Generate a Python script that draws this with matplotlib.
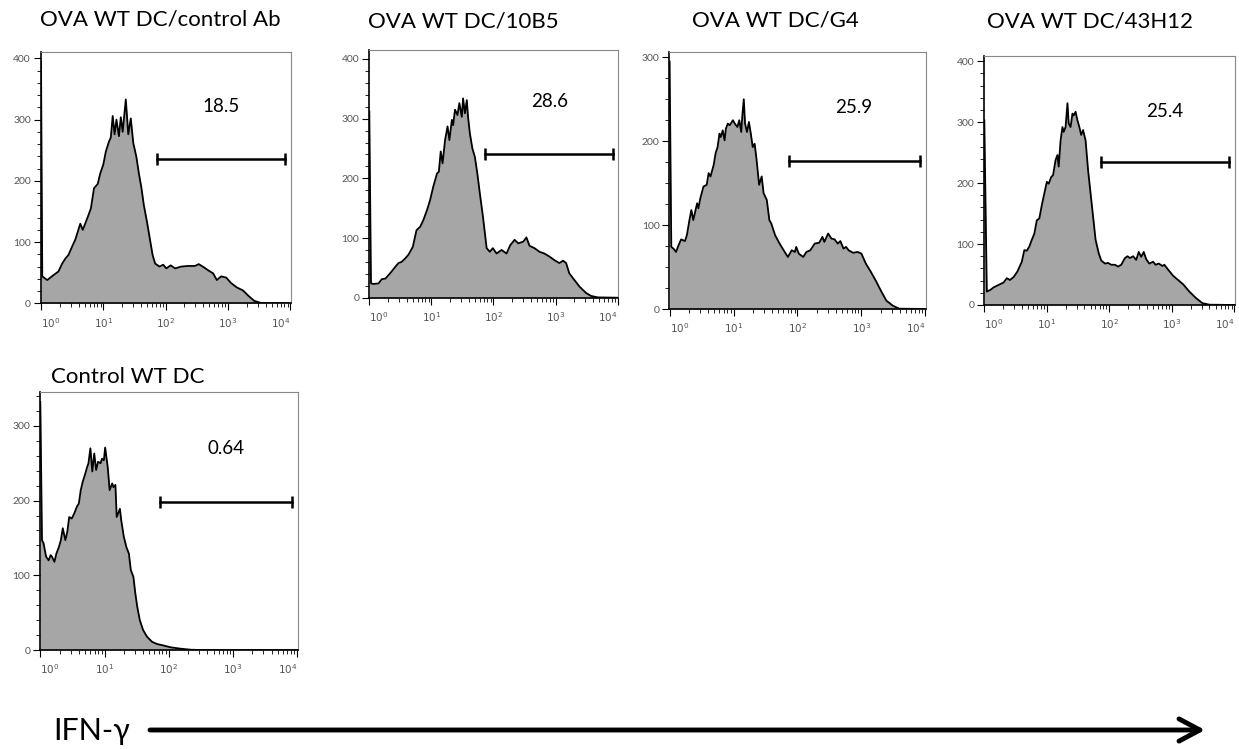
import numpy as np
import matplotlib.pyplot as plt
from matplotlib.ticker import FixedLocator, MultipleLocator, NullFormatter

plt.rcParams['font.family'] = ['Lato', 'Open Sans', 'DejaVu Sans']
plt.rcParams['mathtext.fontset'] = 'dejavusans'

# Panel titles and gated percentages
titles = ['OVA WT DC/control Ab', 'OVA WT DC/10B5', 'OVA WT DC/G4',
          'OVA WT DC/43H12', 'Control WT DC']
percents = ['18.5', '28.6', '25.9', '25.4', '0.64']

# Histograms: log10(IFN-gamma intensity) vs cell count
p1_logx = [0.00, 0.02, 0.10, 0.20, 0.28, 0.34, 0.39, 0.44, 0.50, 0.55, 0.63, 0.67,
           0.75, 0.80, 0.85, 0.91, 0.95, 1.00, 1.04, 1.09, 1.12, 1.15, 1.18, 1.21,
           1.25, 1.28, 1.31, 1.36, 1.40, 1.44, 1.48, 1.53, 1.57, 1.61, 1.65, 1.70,
           1.75, 1.79, 1.83, 1.90, 1.96, 2.01, 2.08, 2.15, 2.25, 2.36, 2.47, 2.53,
           2.61, 2.68, 2.76, 2.82, 2.89, 2.97, 3.05, 3.14, 3.24, 3.33, 3.42, 3.53, 3.98]
p1_counts = [395, 44, 38, 46, 52, 65, 73, 79, 93, 104, 130, 120,
             141, 155, 188, 195, 212, 227, 248, 264, 271, 306, 276, 300,
             273, 304, 280, 333, 276, 302, 262, 239, 212, 189, 160, 133,
             103, 79, 65, 60, 63, 57, 62, 57, 60, 61, 61, 64,
             59, 54, 49, 38, 44, 42, 33, 26, 21, 12, 4, 0.5, 0]

p2_logx = [0.00, 0.027, 0.07, 0.15, 0.20, 0.26, 0.31, 0.36, 0.42, 0.47, 0.52, 0.58,
           0.63, 0.70, 0.76, 0.82, 0.87, 0.93, 0.98, 1.03, 1.09, 1.12, 1.15, 1.18,
           1.22, 1.26, 1.29, 1.33, 1.35, 1.38, 1.42, 1.45, 1.49, 1.51, 1.54, 1.57,
           1.59, 1.62, 1.66, 1.70, 1.74, 1.78, 1.83, 1.89, 1.94, 1.99, 2.05, 2.13,
           2.21, 2.27, 2.34, 2.40, 2.48, 2.53, 2.58, 2.66, 2.74, 2.82, 2.90, 2.98,
           3.06, 3.12, 3.17, 3.22, 3.30, 3.39, 3.49, 3.57, 3.68, 3.99]
p2_counts = [312, 24, 23, 24, 31, 32, 38, 44, 52, 58, 60, 66,
             72, 85, 113, 119, 130, 147, 164, 186, 208, 211, 245, 225,
             264, 287, 264, 298, 289, 315, 306, 326, 303, 334, 309, 331,
             303, 275, 250, 236, 208, 175, 136, 83, 77, 83, 74, 80,
             74, 88, 97, 91, 94, 101, 87, 83, 77, 74, 69, 63,
             58, 62, 58, 41, 30, 18, 8, 3, 0.5, 0]

p3_logx = [0.00, 0.026, 0.06, 0.10, 0.14, 0.18, 0.24, 0.27, 0.31, 0.34, 0.37, 0.40,
           0.43, 0.45, 0.48, 0.53, 0.58, 0.61, 0.64, 0.69, 0.72, 0.75, 0.78, 0.80,
           0.83, 0.86, 0.88, 0.91, 0.94, 0.99, 1.02, 1.06, 1.09, 1.12, 1.14, 1.16,
           1.18, 1.21, 1.24, 1.27, 1.30, 1.33, 1.36, 1.40, 1.44, 1.47, 1.52, 1.56,
           1.59, 1.65, 1.72, 1.80, 1.85, 1.91, 1.96, 1.98, 2.02, 2.09, 2.14, 2.20,
           2.27, 2.34, 2.39, 2.42, 2.48, 2.53, 2.58, 2.63, 2.67, 2.72, 2.76, 2.80,
           2.87, 2.94, 3.00, 3.07, 3.15, 3.23, 3.31, 3.39, 3.49, 3.59, 3.98]
p3_counts = [295, 74, 72, 68, 76, 83, 81, 88, 106, 118, 106, 116,
             126, 120, 132, 146, 148, 162, 158, 172, 186, 193, 209, 205,
             213, 201, 215, 221, 219, 225, 221, 217, 225, 211, 233, 250,
             221, 211, 223, 209, 193, 197, 178, 148, 158, 138, 130, 106,
             102, 88, 78, 68, 62, 70, 68, 74, 66, 62, 68, 70,
             78, 79, 86, 80, 90, 84, 83, 78, 81, 72, 74, 70,
             67, 68, 66, 54, 44, 33, 21, 10, 4, 0.4, 0]

p4_logx = [0.00, 0.04, 0.10, 0.15, 0.23, 0.31, 0.36, 0.41, 0.47, 0.53, 0.60, 0.64,
           0.68, 0.72, 0.76, 0.80, 0.84, 0.88, 0.92, 0.96, 1.00, 1.03, 1.07, 1.10,
           1.14, 1.17, 1.19, 1.22, 1.25, 1.27, 1.30, 1.33, 1.35, 1.38, 1.41, 1.43,
           1.46, 1.49, 1.52, 1.55, 1.58, 1.62, 1.66, 1.70, 1.74, 1.78, 1.83, 1.87,
           1.93, 1.98, 2.03, 2.09, 2.14, 2.19, 2.25, 2.29, 2.33, 2.38, 2.43, 2.47,
           2.51, 2.55, 2.59, 2.64, 2.70, 2.74, 2.79, 2.85, 2.88, 2.94, 3.02, 3.10,
           3.18, 3.28, 3.39, 3.49, 3.60, 4.00]
p4_counts = [303, 22, 25, 29, 33, 37, 44, 41, 46, 55, 71, 90,
             89, 96, 107, 117, 139, 142, 164, 183, 202, 199, 210, 213,
             238, 246, 227, 270, 292, 284, 292, 331, 298, 292, 314, 311,
             317, 303, 292, 279, 287, 270, 221, 183, 145, 107, 85, 73,
             68, 69, 66, 66, 63, 66, 77, 80, 77, 80, 74, 87,
             79, 87, 75, 68, 71, 66, 68, 64, 66, 58, 48, 41,
             34, 22, 11, 3, 0.5, 0]

p5_logx = [0.00, 0.026, 0.05, 0.09, 0.13, 0.16, 0.18, 0.22, 0.25, 0.29, 0.32, 0.35,
           0.39, 0.42, 0.45, 0.49, 0.53, 0.57, 0.60, 0.63, 0.66, 0.70, 0.73, 0.75,
           0.78, 0.81, 0.84, 0.87, 0.90, 0.94, 0.96, 0.99, 1.01, 1.05, 1.08, 1.12,
           1.14, 1.17, 1.19, 1.24, 1.26, 1.30, 1.34, 1.38, 1.41, 1.45, 1.48, 1.51,
           1.55, 1.60, 1.66, 1.74, 1.82, 1.92, 2.03, 2.18, 2.34, 2.49, 4.00]
p5_counts = [332, 147, 143, 125, 120, 127, 125, 118, 129, 138, 147, 163,
             147, 158, 178, 176, 183, 192, 196, 214, 225, 236, 245, 250,
             270, 239, 263, 241, 252, 250, 256, 254, 271, 245, 214, 223,
             218, 221, 178, 189, 174, 152, 138, 129, 107, 98, 76, 58,
             40, 27, 18, 11, 8, 6, 3.6, 1.8, 0.4, 0, 0]

all_logx = [p1_logx, p2_logx, p3_logx, p4_logx, p5_logx]
all_counts = [p1_counts, p2_counts, p3_counts, p4_counts, p5_counts]

# IFN-gamma+ gate (log10 limits) and its height / label position per panel
gate_logx = [1.86, 3.92]
gate_counts = [236, 241, 176, 234, 198]
label_logx = [2.89, 2.90, 2.88, 2.88, 2.90]
label_counts = [312, 319, 234, 309, 263]
y_max = [410, 415, 306, 409, 345]
y_top_tick = [400, 400, 300, 400, 300]
y_minor = [20, 20, 25, 20, 20]

W, H = 1239, 749
fig = plt.figure(figsize=(W / 100, H / 100), dpi=100)

# axes boxes in pixels: left, top, right, bottom
boxes = [(40.7, 52.3, 291, 303.3), (369, 50, 618.3, 297.7), (669.3, 52.3, 926, 309),
         (984, 55.7, 1235, 305), (40, 392.3, 297.7, 650)]
title_pos = [(160, 26), (463, 27), (775, 26.7), (1090, 27.3), (128, 382.7)]

for i in range(5):
    l, t, r, b = boxes[i]
    ax = fig.add_axes([l / W, 1 - b / H, (r - l) / W, (b - t) / H])
    x = 10 ** np.array(all_logx[i])
    y = np.array(all_counts[i])
    ax.fill_between(x, y, 0, color='#a6a6a6', lw=0)
    ax.plot(x, y, color='black', lw=1.3)

    ax.plot([10 ** gate_logx[0], 10 ** gate_logx[1]], [gate_counts[i]] * 2,
            color='black', lw=1.8, marker='|', ms=9, mew=1.8)
    ax.text(10 ** label_logx[i], label_counts[i], percents[i], ha='center',
            va='baseline', fontsize=13.5)

    ax.set_xscale('log')
    ax.set_xlim(10 ** -0.005, 10 ** 4.01)
    ax.set_ylim(0, y_max[i])
    ax.xaxis.set_major_locator(FixedLocator([1, 10, 100, 1000, 10000]))
    ax.set_xticklabels(['$10^{%d}$' % k for k in range(5)])
    labels = ax.get_xticklabels()
    labels[0].set_ha('left')
    labels[-1].set_ha('right')
    minors = [m * 10 ** d for d in range(4) for m in range(2, 10)]
    ax.xaxis.set_minor_locator(FixedLocator(minors))
    ax.xaxis.set_minor_formatter(NullFormatter())
    ax.set_yticks(np.arange(0, y_top_tick[i] + 1, 100))
    ax.yaxis.set_minor_locator(MultipleLocator(y_minor[i]))

    ax.tick_params(which='major', direction='out', length=5, width=0.8,
                   labelsize=7.5, labelcolor='#555555', pad=2)
    ax.tick_params(axis='x', which='major', pad=4)
    ax.tick_params(which='minor', direction='out', length=3, width=0.6)
    for s in ['top', 'right']:
        ax.spines[s].set_color('#888888')
        ax.spines[s].set_linewidth(0.8)
    for s in ['left', 'bottom']:
        ax.spines[s].set_color('black')
        ax.spines[s].set_linewidth(1.2)

    tx, ty = title_pos[i]
    fig.text(tx / W, 1 - ty / H, titles[i], ha='center', va='baseline', fontsize=16)

# x-axis label with long arrow
fig.text(53 / W, 1 - 740 / H, 'IFN-γ', ha='left', va='baseline', fontsize=22)
ax.annotate('', xy=(1205, 19), xytext=(150, 19), xycoords='figure pixels',
            textcoords='figure pixels',
            arrowprops=dict(arrowstyle='->,head_length=0.75,head_width=0.4',
                            lw=3.5, color='black', mutation_scale=20,
                            shrinkA=0, shrinkB=0))

plt.savefig('out.png', dpi=100)
